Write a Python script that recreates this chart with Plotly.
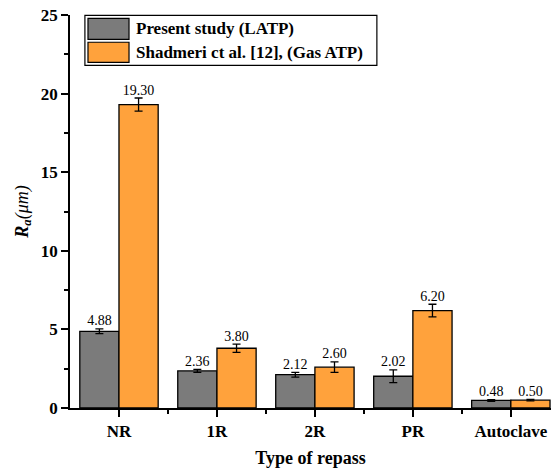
import plotly.graph_objects as go

categories = ["NR", "1R", "2R", "PR", "Autoclave"]
present_vals = [4.88, 2.36, 2.12, 2.02, 0.48]
present_err = [0.15, 0.10, 0.15, 0.40, 0.05]
shad_vals = [19.30, 3.80, 2.60, 6.20, 0.50]
shad_err = [0.42, 0.26, 0.34, 0.40, 0.05]
series_names = ["Present study (LATP)", "Shadmeri ct al. [12], (Gas ATP)"]

GRAY = "#7b7b7b"
ORANGE = "#ffa23c"
FONT = "Liberation Serif"

idx = list(range(len(categories)))
x_p = [i - 0.2 for i in idx]
x_s = [i + 0.2 for i in idx]

fig = go.Figure()
for xs, vals, errs, col, name in [
    (x_p, present_vals, present_err, GRAY, series_names[0]),
    (x_s, shad_vals, shad_err, ORANGE, series_names[1]),
]:
    fig.add_trace(go.Bar(
        x=xs, y=vals, width=0.4, name=name, showlegend=False,
        marker=dict(color=col, line=dict(color="black", width=1.3)),
        error_y=dict(type="data", array=errs, visible=True,
                     color="black", thickness=1.3, width=4),
    ))
    fig.add_trace(go.Scatter(
        x=xs, y=[v + e for v, e in zip(vals, errs)], mode="text",
        text=[f"{v:.2f}" for v in vals], textposition="top center",
        textfont=dict(family=FONT, size=14, color="black"),
        showlegend=False, hoverinfo="skip",
    ))

# Legend drawn as boxed swatches + text (paper coordinates)
shapes = [
    dict(type="rect", xref="paper", yref="paper", x0=0.031, x1=0.638, y0=0.872, y1=0.999,
         line=dict(color="black", width=1.2), fillcolor="white", layer="below"),
    dict(type="rect", xref="paper", yref="paper", x0=0.0374, x1=0.1227, y0=0.938, y1=0.9916,
         line=dict(color="black", width=1.2), fillcolor=GRAY),
    dict(type="rect", xref="paper", yref="paper", x0=0.0374, x1=0.1227, y0=0.8797, y1=0.9306,
         line=dict(color="black", width=1.2), fillcolor=ORANGE),
]
annotations = [
    dict(xref="paper", yref="paper", x=0.133, y=0.965, xanchor="left", yanchor="middle",
         text=f"<b>{series_names[0]}</b>", showarrow=False,
         font=dict(family=FONT, size=17, color="black")),
    dict(xref="paper", yref="paper", x=0.133, y=0.905, xanchor="left", yanchor="middle",
         text=f"<b>{series_names[1]}</b>", showarrow=False,
         font=dict(family=FONT, size=17, color="black")),
]

fig.update_layout(
    width=555, height=470,
    margin=dict(l=70, r=4, t=15, b=62),
    paper_bgcolor="white", plot_bgcolor="white",
    barmode="overlay",
    shapes=shapes, annotations=annotations,
    font=dict(family=FONT, color="black"),
    xaxis=dict(
        range=[-0.5, 4.41], tickmode="array", tickvals=idx, ticktext=categories,
        showgrid=False, zeroline=False, showline=True, linecolor="black", linewidth=1.5,
        ticks="outside", ticklen=7, tickwidth=1.5, tickcolor="black",
        tickfont=dict(family=FONT, size=17, color="black", weight="bold"),
        minor=dict(tickmode="array", tickvals=[i + 0.5 for i in idx[:-1]],
                   ticks="outside", ticklen=4, tickwidth=1.5, tickcolor="black"),
        title=dict(text="<b>Type of repass</b>", font=dict(family=FONT, size=18, color="black"),
                   standoff=11),
    ),
    yaxis=dict(
        range=[0, 25], tickmode="linear", tick0=0, dtick=5,
        showgrid=False, zeroline=False, showline=True, linecolor="black", linewidth=1.5,
        ticks="outside", ticklen=7, tickwidth=1.5, tickcolor="black",
        tickfont=dict(family=FONT, size=17, color="black", weight="bold"),
        minor=dict(dtick=2.5, ticks="outside", ticklen=4, tickwidth=1.5, tickcolor="black"),
        title=dict(text="<b><i>R<sub>a</sub></i></b><i>(μm)</i>",
                   font=dict(family=FONT, size=18, color="black"), standoff=8),
    ),
)

fig.write_html("out.html")
